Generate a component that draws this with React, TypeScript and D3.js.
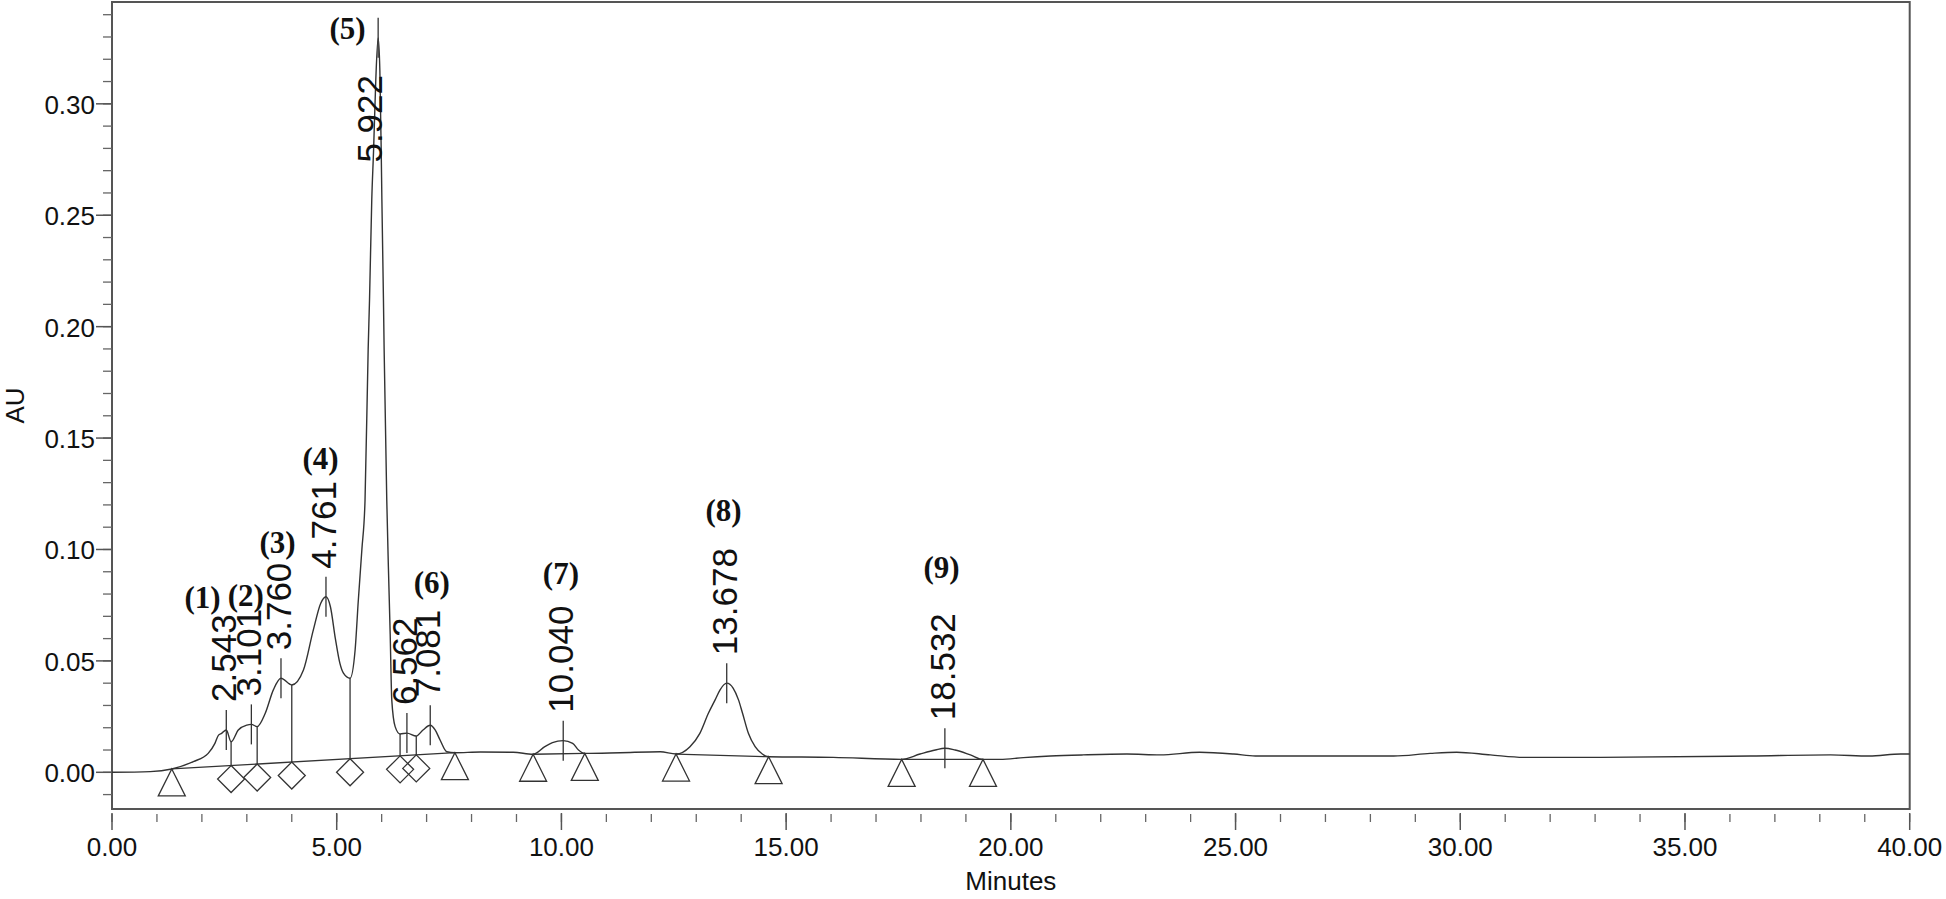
import React from 'react';
import * as d3 from 'd3';

const W = 1946;
const H = 899;
const PLOT = { left: 112, right: 1909.7, top: 2, bottom: 809 };

// chromatogram trace: [minutes, AU]
const trace: [number, number][] = [
  [0, 0.0], [0.85, 0.0003], [1.33, 0.0015], [1.81, 0.0048], [2.14, 0.0085], [2.29, 0.013],
  [2.37, 0.0167], [2.44, 0.0175], [2.543, 0.019], [2.65, 0.0137], [2.81, 0.019], [3.0, 0.0212],
  [3.101, 0.0215], [3.23, 0.0205], [3.41, 0.0265], [3.59, 0.037], [3.76, 0.0422], [4.0, 0.0392],
  [4.26, 0.0459], [4.48, 0.0639], [4.645, 0.0759], [4.761, 0.0788], [4.86, 0.0743], [4.97, 0.06],
  [5.07, 0.049], [5.15, 0.0445], [5.297, 0.0422], [5.41, 0.055], [5.48, 0.077], [5.56, 0.1],
  [5.63, 0.122], [5.7, 0.19], [5.73, 0.212], [5.78, 0.257], [5.82, 0.279], [5.87, 0.311],
  [5.922, 0.3296], [5.96, 0.315], [5.99, 0.279], [6.005, 0.257], [6.04, 0.212], [6.055, 0.19],
  [6.114, 0.122], [6.15, 0.092], [6.19, 0.062], [6.225, 0.0325], [6.3, 0.0205], [6.41, 0.0172],
  [6.562, 0.0176], [6.77, 0.0163], [6.92, 0.019], [7.081, 0.0211], [7.19, 0.019], [7.3, 0.0145],
  [7.45, 0.0092], [7.63, 0.0088], [8.2, 0.0091], [8.93, 0.009], [9.37, 0.0081], [9.63, 0.0115],
  [9.8, 0.0133], [10.04, 0.0142], [10.25, 0.013], [10.38, 0.01], [10.52, 0.0085], [11.31, 0.0088],
  [12.2, 0.0092], [12.55, 0.0082], [12.86, 0.0115], [13.08, 0.0175], [13.27, 0.0265], [13.42, 0.0325],
  [13.53, 0.037], [13.678, 0.04], [13.82, 0.0378], [13.94, 0.0325], [14.03, 0.0265], [14.16, 0.0175],
  [14.31, 0.0115], [14.47, 0.0082], [14.61, 0.007], [16.05, 0.0067], [17.57, 0.0058], [17.98, 0.0082],
  [18.32, 0.01], [18.532, 0.0108], [18.76, 0.01], [19.1, 0.0078], [19.38, 0.0058], [19.76, 0.0058],
  [20.28, 0.0066], [20.88, 0.0073], [21.6, 0.0078], [22.58, 0.0082], [23.32, 0.0078], [24.2, 0.009],
  [24.96, 0.0082], [25.44, 0.0073], [28.52, 0.0073], [29.33, 0.0085], [29.92, 0.009], [30.67, 0.0078],
  [31.41, 0.0067], [33.12, 0.0067], [36.46, 0.0073], [38.24, 0.0078], [39.1, 0.0073], [39.8, 0.0082],
  [40, 0.0082],
];

const retentionTimes = [2.543, 3.101, 3.76, 4.761, 5.922, 6.562, 7.081, 10.04, 13.678, 18.532];
const retentionLabels = ['2.543', '3.101', '3.760', '4.761', '5.922', '6.562', '7.081', '10.040', '13.678', '18.532'];

const peakNames = ['(1)', '(2)', '(3)', '(4)', '(5)', '(6)', '(7)', '(8)', '(9)'];
const peakNameMinutes = [2.014, 2.978, 3.684, 4.64, 5.241, 7.115, 9.989, 13.606, 18.458];
const peakNameAU = [0.0788, 0.0796, 0.1034, 0.1411, 0.334, 0.0855, 0.0894, 0.1177, 0.0919];

const baselineStart: [number, number][] = [[1.33, 0.0015], [9.37, 0.0081], [12.55, 0.0082], [17.57, 0.0058]];
const baselineEnd: [number, number][] = [[7.63, 0.0088], [10.52, 0.0085], [14.61, 0.007], [19.38, 0.0058]];
const dropTimes = [2.65, 3.23, 4.0, 5.297, 6.41, 6.77];

const xMajorTicks = [0, 5, 10, 15, 20, 25, 30, 35, 40];
const xMinorTicks = d3.range(0, 41, 1);
const yMajorTicks = [0, 0.05, 0.1, 0.15, 0.2, 0.25, 0.3];
const yMinorTicks = d3.range(-1, 35, 1).map((d) => d / 100);

const xAxisTitle = 'Minutes';
const yAxisTitle = 'AU';

const INK = '#333';
const AXIS = '#555';
const SANS = '"Liberation Sans", Arial, Helvetica, sans-serif';
const SERIF = '"Liberation Serif", "Times New Roman", serif';

export default function App() {
  const x = d3.scaleLinear().domain([0, 40]).range([PLOT.left, PLOT.right]);
  const y = d3.scaleLinear().domain([-0.01647, 0.3457]).range([PLOT.bottom, PLOT.top]);

  const line = d3
    .line<[number, number]>()
    .x((d) => x(d[0]))
    .y((d) => y(d[1]))
    .curve(d3.curveMonotoneX);

  const bis = d3.bisector((d: [number, number]) => d[0]).left;
  const traceAt = (t: number) => {
    const i = bis(trace, t);
    if (i <= 0) return trace[0][1];
    if (i >= trace.length) return trace[trace.length - 1][1];
    const a = trace[i - 1];
    const b = trace[i];
    return a[1] + ((b[1] - a[1]) * (t - a[0])) / (b[0] - a[0]);
  };
  const baselineAt = (t: number) => {
    for (let k = 0; k < baselineStart.length; k++) {
      const s = baselineStart[k];
      const e = baselineEnd[k];
      if (t >= s[0] && t <= e[0]) return s[1] + ((e[1] - s[1]) * (t - s[0])) / (e[0] - s[0]);
    }
    return traceAt(t);
  };

  const fsRT = 35;
  const tri = (px: number, py: number) =>
    `M${px},${py}L${px + 13.5},${py + 27}L${px - 13.5},${py + 27}Z`;
  const dia = (px: number, py: number) =>
    `M${px},${py}L${px + 13.5},${py + 13.5}L${px},${py + 27}L${px - 13.5},${py + 13.5}Z`;

  return (
    <svg
      width={W}
      height={H}
      viewBox={`0 0 ${W} ${H}`}
      style={{ position: 'absolute', left: 0, top: 0, background: '#fff' }}
    >
      <rect x={0} y={0} width={W} height={H} fill="#fff" />
      {/* frame */}
      <rect
        x={PLOT.left}
        y={PLOT.top}
        width={PLOT.right - PLOT.left}
        height={PLOT.bottom - PLOT.top}
        fill="none"
        stroke={AXIS}
        strokeWidth={2}
      />
      {/* y ticks */}
      {yMinorTicks.map((v, i) => (
        <line key={'ym' + i} x1={103} x2={PLOT.left} y1={y(v)} y2={y(v)} stroke="#666" strokeWidth={1.3} />
      ))}
      {yMajorTicks.map((v, i) => (
        <g key={'yM' + i}>
          <line x1={96} x2={PLOT.left} y1={y(v)} y2={y(v)} stroke={AXIS} strokeWidth={1.5} />
          <text x={95} y={y(v) + 10} textAnchor="end" fontFamily={SANS} fontSize={26} fill="#111">
            {v.toFixed(2)}
          </text>
        </g>
      ))}
      {/* x ticks */}
      {xMinorTicks.map((t, i) => (
        <line key={'xm' + i} x1={x(t)} x2={x(t)} y1={814} y2={822} stroke="#666" strokeWidth={1.3} />
      ))}
      {xMajorTicks.map((t, i) => (
        <g key={'xM' + i}>
          <line x1={x(t)} x2={x(t)} y1={813} y2={830} stroke={AXIS} strokeWidth={1.5} />
          <text x={x(t)} y={856} textAnchor="middle" fontFamily={SANS} fontSize={26} fill="#111">
            {t.toFixed(2)}
          </text>
        </g>
      ))}
      <text
        x={(PLOT.left + PLOT.right) / 2}
        y={890}
        textAnchor="middle"
        fontFamily={SANS}
        fontSize={26}
        fill="#111"
      >
        {xAxisTitle}
      </text>
      <text
        transform={`translate(24,${(PLOT.top + PLOT.bottom) / 2}) rotate(-90)`}
        textAnchor="middle"
        fontFamily={SANS}
        fontSize={26}
        fill="#111"
      >
        {yAxisTitle}
      </text>

      {/* trace */}
      <path d={line(trace) || ''} fill="none" stroke={INK} strokeWidth={1.4} />

      {/* integration baselines */}
      {baselineStart.map((s, k) => (
        <line
          key={'bl' + k}
          x1={x(s[0])}
          y1={y(s[1])}
          x2={x(baselineEnd[k][0])}
          y2={y(baselineEnd[k][1])}
          stroke={INK}
          strokeWidth={1.3}
        />
      ))}
      {/* baseline end triangles */}
      {[...baselineStart, ...baselineEnd].map((p, k) => (
        <path key={'tr' + k} d={tri(x(p[0]), y(p[1]))} fill="none" stroke={INK} strokeWidth={1.3} />
      ))}
      {/* drop lines + diamonds */}
      {dropTimes.map((t, k) => {
        const yb = y(baselineAt(t));
        const yt = y(traceAt(t));
        return (
          <g key={'dr' + k}>
            <line x1={x(t)} x2={x(t)} y1={yt} y2={yb} stroke={INK} strokeWidth={1.3} />
            <path d={dia(x(t), yb)} fill="none" stroke={INK} strokeWidth={1.3} />
          </g>
        );
      })}
      {/* retention time markers + labels */}
      {retentionTimes.map((t, k) => {
        const px = x(t);
        const py = y(traceAt(t));
        const lab = retentionLabels[k];
        const len = (lab.replace('.', '').length * 0.556 + 0.278) * fsRT;
        let ty = py - 28;
        let tx = px + 10;
        const minTop = PLOT.top + 73;
        if (ty - len < minTop) {
          ty = minTop + len;
          tx = px + 4;
        }
        return (
          <g key={'rt' + k}>
            <line x1={px} x2={px} y1={py - 20} y2={py + 20} stroke={INK} strokeWidth={1.3} />
            <text
              transform={`translate(${tx},${ty}) rotate(-90)`}
              fontFamily={SANS}
              fontSize={fsRT}
              fill="#111"
            >
              {lab}
            </text>
          </g>
        );
      })}
      {/* peak names */}
      {peakNames.map((n, k) => (
        <text
          key={'pn' + k}
          x={x(peakNameMinutes[k])}
          y={y(peakNameAU[k])}
          dy="0.35em"
          textAnchor="middle"
          fontFamily={SERIF}
          fontWeight="bold"
          fontSize={31}
          fill="#111"
        >
          {n}
        </text>
      ))}
    </svg>
  );
}
